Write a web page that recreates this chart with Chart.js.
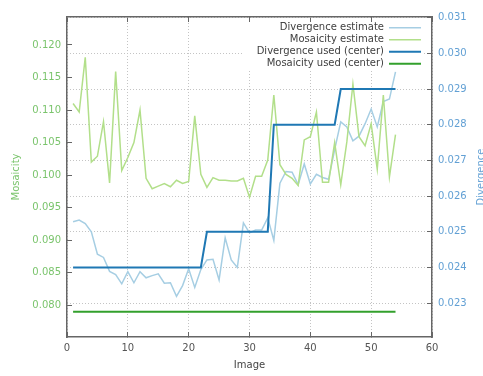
<!DOCTYPE html>
<html lang="en">
<head>
<meta charset="UTF-8">
<title>Mosaicity and divergence per image</title>
<script src="https://cdn.jsdelivr.net/npm/chart.js"></script>
<style>
  html, body { margin: 0; padding: 0; background: #fff; }
</style>
</head>
<body>
<canvas id="myChart" width="483" height="376"></canvas>
<script>
// data
const images = [1, 2, 3, 4, 5, 6, 7, 8, 9, 10, 11, 12, 13, 14, 15, 16, 17, 18, 19, 20,
    21, 22, 23, 24, 25, 26, 27, 28, 29, 30, 31, 32, 33, 34, 35, 36, 37, 38, 39, 40,
    41, 42, 43, 44, 45, 46, 47, 48, 49, 50, 51, 52, 53, 54];

const divergenceEstimate = [0.02528, 0.02533, 0.02523, 0.02500, 0.02437, 0.02428, 0.02389, 0.02380, 0.02354, 0.02388,
    0.02357, 0.02388, 0.02371, 0.02377, 0.02382, 0.02356, 0.02357, 0.02319, 0.02349, 0.02396,
    0.02344, 0.02394, 0.02421, 0.02423, 0.02365, 0.02483, 0.02421, 0.02400, 0.02525, 0.02497,
    0.02505, 0.02505, 0.02539, 0.02476, 0.02636, 0.02669, 0.02667, 0.02632, 0.02690, 0.02634,
    0.02661, 0.02652, 0.02647, 0.02730, 0.02808, 0.02794, 0.02755, 0.02768, 0.02803, 0.02844,
    0.02794, 0.02865, 0.02872, 0.02948];

const mosaicityEstimate = [0.1110, 0.1097, 0.1181, 0.1020, 0.1029, 0.1082, 0.0988, 0.1159, 0.1007, 0.1027,
    0.1050, 0.1100, 0.0995, 0.0979, 0.0983, 0.0987, 0.0982, 0.0992, 0.0987, 0.0990,
    0.1091, 0.1001, 0.0981, 0.0996, 0.0992, 0.0992, 0.0991, 0.0991, 0.0995, 0.0966,
    0.0998, 0.0998, 0.1023, 0.1123, 0.1016, 0.1001, 0.0995, 0.0984, 0.1054, 0.1059,
    0.1097, 0.0989, 0.0989, 0.1050, 0.0985, 0.1051, 0.1140, 0.1059, 0.1045, 0.1079,
    0.1009, 0.1123, 0.0997, 0.1062];

const divergenceUsed = [0.024, 0.024, 0.024, 0.024, 0.024, 0.024, 0.024, 0.024, 0.024, 0.024,
    0.024, 0.024, 0.024, 0.024, 0.024, 0.024, 0.024, 0.024, 0.024, 0.024,
    0.024, 0.024, 0.025, 0.025, 0.025, 0.025, 0.025, 0.025, 0.025, 0.025,
    0.025, 0.025, 0.025, 0.028, 0.028, 0.028, 0.028, 0.028, 0.028, 0.028,
    0.028, 0.028, 0.028, 0.028, 0.029, 0.029, 0.029, 0.029, 0.029, 0.029,
    0.029, 0.029, 0.029, 0.029];

const mosaicityUsed = [0.079, 0.079, 0.079, 0.079, 0.079, 0.079, 0.079, 0.079, 0.079, 0.079,
    0.079, 0.079, 0.079, 0.079, 0.079, 0.079, 0.079, 0.079, 0.079, 0.079,
    0.079, 0.079, 0.079, 0.079, 0.079, 0.079, 0.079, 0.079, 0.079, 0.079,
    0.079, 0.079, 0.079, 0.079, 0.079, 0.079, 0.079, 0.079, 0.079, 0.079,
    0.079, 0.079, 0.079, 0.079, 0.079, 0.079, 0.079, 0.079, 0.079, 0.079,
    0.079, 0.079, 0.079, 0.079];

const xTicks = [0, 10, 20, 30, 40, 50, 60];
const mosaicityTicks = [0.080, 0.085, 0.090, 0.095, 0.100, 0.105, 0.110, 0.115, 0.120];
const divergenceTicks = [0.023, 0.024, 0.025, 0.026, 0.027, 0.028, 0.029, 0.030, 0.031];

const green = '#7ac46c';
const blue = '#62a0d4';
const frame = '#666';
const font = { family: 'DejaVu Sans', size: 10 };

function points(vals) {
    return images.map((x, i) => ({ x: x, y: vals[i] }));
}

function tickList(list) {
    return scale => { scale.ticks = list.map(v => ({ value: v })); };
}

// gnuplot-ish extras: opaque key, y2 label written bottom to top
const extras = {
    id: 'extras',
    afterLayout(chart) {
        const lg = chart.legend, ca = chart.chartArea;
        const w = lg.width, h = lg.height;
        lg.left = ca.right - 9 - w;
        lg.right = lg.left + w;
        lg.top = ca.top + 3.7;
        lg.bottom = lg.top + h;
    },
    beforeDatasetsDraw(chart) {
        const ctx = chart.ctx, ca = chart.chartArea;
        ctx.save();
        ctx.fillStyle = '#fff';
        ctx.fillRect(ca.left + 176, ca.top + 6, ca.right - ca.left - 184, 46);
        ctx.restore();
        chart.legend.draw();
    },
    afterDraw(chart) {
        const ctx = chart.ctx, ca = chart.chartArea;
        ctx.save();
        ctx.translate(chart.width + 0.5, (ca.top + ca.bottom) / 2);
        ctx.rotate(-Math.PI / 2);
        ctx.font = '10px "DejaVu Sans"';
        ctx.fillStyle = blue;
        ctx.textAlign = 'center';
        ctx.textBaseline = 'alphabetic';
        ctx.fillText('Divergence', 0, 0);
        ctx.restore();
    }
};

const ctx = document.getElementById('myChart').getContext('2d');
new Chart(ctx, {
    type: 'line',
    data: {
        datasets: [{
            label: 'Divergence estimate',
            data: points(divergenceEstimate),
            yAxisID: 'y2',
            borderColor: '#a6cee3',
            borderWidth: 1.5,
            order: 4
        }, {
            label: 'Mosaicity estimate',
            data: points(mosaicityEstimate),
            yAxisID: 'y',
            borderColor: '#b2df8a',
            borderWidth: 1.5,
            order: 3
        }, {
            label: 'Divergence used (center)',
            data: points(divergenceUsed),
            yAxisID: 'y2',
            borderColor: '#1f78b4',
            borderWidth: 2,
            order: 2
        }, {
            label: 'Mosaicity used (center)',
            data: points(mosaicityUsed),
            yAxisID: 'y',
            borderColor: '#33a02c',
            borderWidth: 2,
            order: 1
        }]
    },
    options: {
        responsive: false,
        animation: false,
        layout: { padding: 0 },
        elements: {
            point: { radius: 0 },
            line: { tension: 0, fill: false }
        },
        plugins: {
            tooltip: { enabled: false },
            legend: {
                position: 'chartArea',
                align: 'start',
                rtl: true,
                textDirection: 'ltr',
                labels: {
                    sort: (a, b) => a.datasetIndex - b.datasetIndex,
                    usePointStyle: true,
                    pointStyle: 'line',
                    pointStyleWidth: 32,
                    padding: 2,
                    color: '#404040',
                    font: font
                }
            }
        },
        scales: {
            x: {
                type: 'linear',
                position: 'bottom',
                min: 0,
                max: 60,
                afterBuildTicks: tickList(xTicks),
                afterFit: s => { s.height = 39; },
                grid: { color: '#c4c4c4', lineWidth: 1, tickLength: -5, tickColor: frame, tickWidth: 1, tickBorderDash: [] },
                border: { color: frame, width: 1.5, dash: [1, 2] },
                ticks: { color: '#555', font: font, padding: 10, maxRotation: 0 },
                title: { display: true, text: 'Image', color: '#444', font: font, padding: { top: 0, bottom: 5 } }
            },
            x2: {
                type: 'linear',
                position: 'top',
                min: 0,
                max: 60,
                afterBuildTicks: tickList(xTicks),
                afterFit: s => { s.height = 14; },
                grid: { drawOnChartArea: false, tickLength: -5, tickColor: frame, tickWidth: 1 },
                border: { color: frame, width: 1.5 },
                ticks: { display: false }
            },
            y: {
                type: 'linear',
                position: 'left',
                min: 0.0751,
                max: 0.1243,
                afterBuildTicks: tickList(mosaicityTicks),
                afterFit: s => { s.width = 67; },
                grid: { drawOnChartArea: false, tickLength: -5, tickColor: frame, tickWidth: 1 },
                border: { color: frame, width: 1.5 },
                ticks: { color: green, font: font, padding: 11, callback: v => v.toFixed(3) },
                title: { display: true, text: 'Mosaicity', color: green, font: font, padding: { top: 10, bottom: 0 } }
            },
            y2: {
                type: 'linear',
                position: 'right',
                min: 0.02205,
                max: 0.03102,
                afterBuildTicks: tickList(divergenceTicks),
                afterFit: s => { s.width = 51; },
                grid: { color: '#c4c4c4', lineWidth: 1, tickLength: -5, tickColor: frame, tickWidth: 1, tickBorderDash: [] },
                border: { color: frame, width: 1.5, dash: [1, 2] },
                ticks: { color: blue, font: font, padding: 11, callback: v => v.toFixed(3) }
            }
        }
    },
    plugins: [extras]
});
</script>
</body>
</html>
